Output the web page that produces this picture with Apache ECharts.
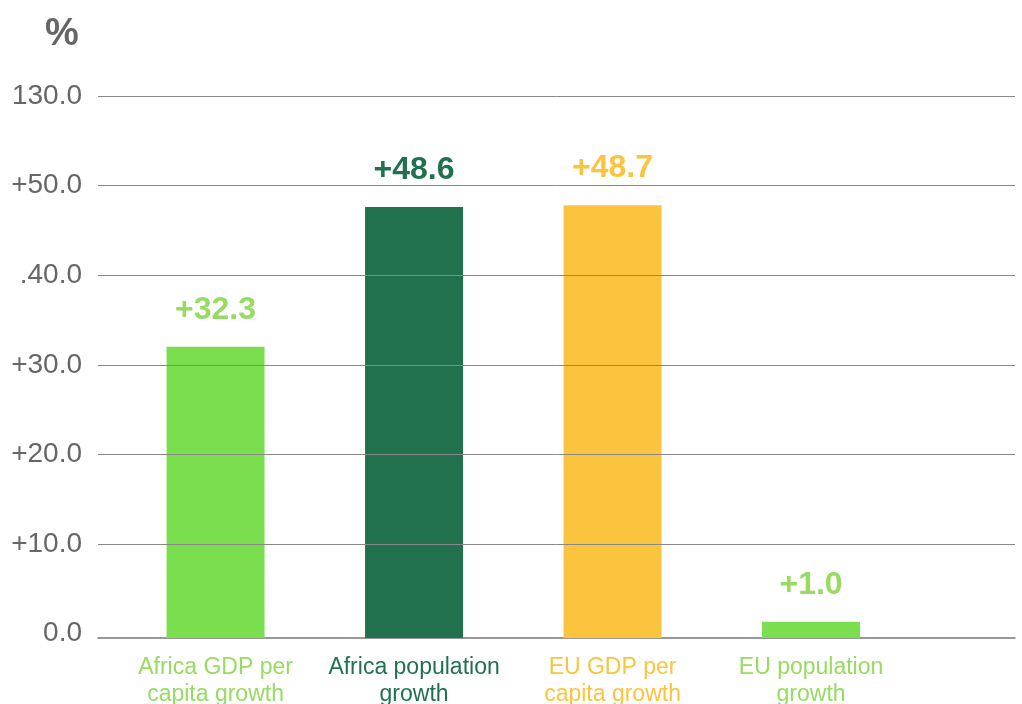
<!DOCTYPE html>
<html>
<head>
<meta charset="utf-8">
<title>Africa vs EU growth</title>
<script src="https://cdn.jsdelivr.net/npm/echarts@6/dist/echarts.min.js"></script>
<style>
    html, body { margin: 0; padding: 0; background: #fff; }
    #chart { width: 1022px; height: 704px; }
</style>
</head>
<body>
<div id="chart"></div>
<script>
// categories and values
var categories = ['Africa GDP per\ncapita growth', 'Africa population\ngrowth', 'EU GDP per\ncapita growth', 'EU population\ngrowth'];
var barValues = [32.5, 48.1, 48.3, 1.8];
var valueLabels = ['+32.3', '+48.6', '+48.7', '+1.0'];
// tick labels as printed, bottom to top
var tickLabels = ['0.0', '+10.0', '+20.0', '+30.0', '.40.0', '+50.0', '130.0'];

var barColors = ['#7ade4f', '#21714f', '#fbc43e', '#7ade4f'];
var textColors = ['#97db62', '#21714f', '#fbc43e', '#97db62'];
var FONT = '"Liberation Sans", Arial, sans-serif';

function init() {
    var chart = echarts.init(document.getElementById('chart'));

    var option = {
        backgroundColor: '#fff',
        animation: false,
        graphic: [{
            type: 'text',
            left: 45,
            top: 16,
            style: { text: '%', fontSize: 38, fontWeight: 'bold', fill: '#666', fontFamily: FONT }
        }],
        grid: [
            // grid lines + tick labels
            { left: 98, right: 7, top: 96, bottom: 70.3, outerBoundsMode: 'none' },
            // bars
            { left: 116.3, right: 111.7, top: 96, bottom: 66, outerBoundsMode: 'none' }
        ],
        xAxis: [{
            gridIndex: 0,
            type: 'value',
            offset: 4.3,
            axisLine: { show: true, onZero: false, lineStyle: { color: '#777', width: 1.5 } },
            axisTick: { show: false },
            axisLabel: { show: false },
            splitLine: { show: false }
        }, {
            gridIndex: 1,
            type: 'category',
            data: categories.map(function (c, i) {
                return { value: c, textStyle: { color: textColors[i] } };
            }),
            axisLine: { show: false },
            axisTick: { show: false },
            axisLabel: {
                interval: 0,
                margin: 16,
                fontSize: 23,
                lineHeight: 27,
                fontFamily: FONT
            }
        }],
        yAxis: [{
            gridIndex: 0,
            type: 'value',
            min: 0,
            max: 60,
            interval: 10,
            z: 3,
            axisLine: { show: false },
            axisTick: { show: false },
            axisLabel: {
                margin: 16,
                fontSize: 28,
                fontFamily: FONT,
                color: '#666',
                formatter: function (v) {
                    return tickLabels[Math.round(v / 10)];
                }
            },
            splitLine: {
                lineStyle: { color: ['rgba(0,0,0,0)', '#888', '#888', '#888', '#888', '#888', '#888'], width: 1 }
            }
        }, {
            gridIndex: 1,
            type: 'value',
            min: 0,
            max: 60.5,
            show: false,
            splitLine: { show: false }
        }],
        series: [{
            type: 'bar',
            xAxisIndex: 1,
            yAxisIndex: 1,
            barWidth: 98,
            z: 2,
            data: barValues.map(function (v, i) {
                return {
                    value: v,
                    itemStyle: { color: barColors[i] },
                    label: { color: textColors[i] }
                };
            }),
            label: {
                show: true,
                position: 'top',
                distance: 21,
                fontSize: 32,
                fontWeight: 'bold',
                fontFamily: FONT,
                formatter: function (p) {
                    return valueLabels[p.dataIndex];
                }
            }
        }]
    };

    chart.setOption(option);
}

init();
</script>
</body>
</html>
